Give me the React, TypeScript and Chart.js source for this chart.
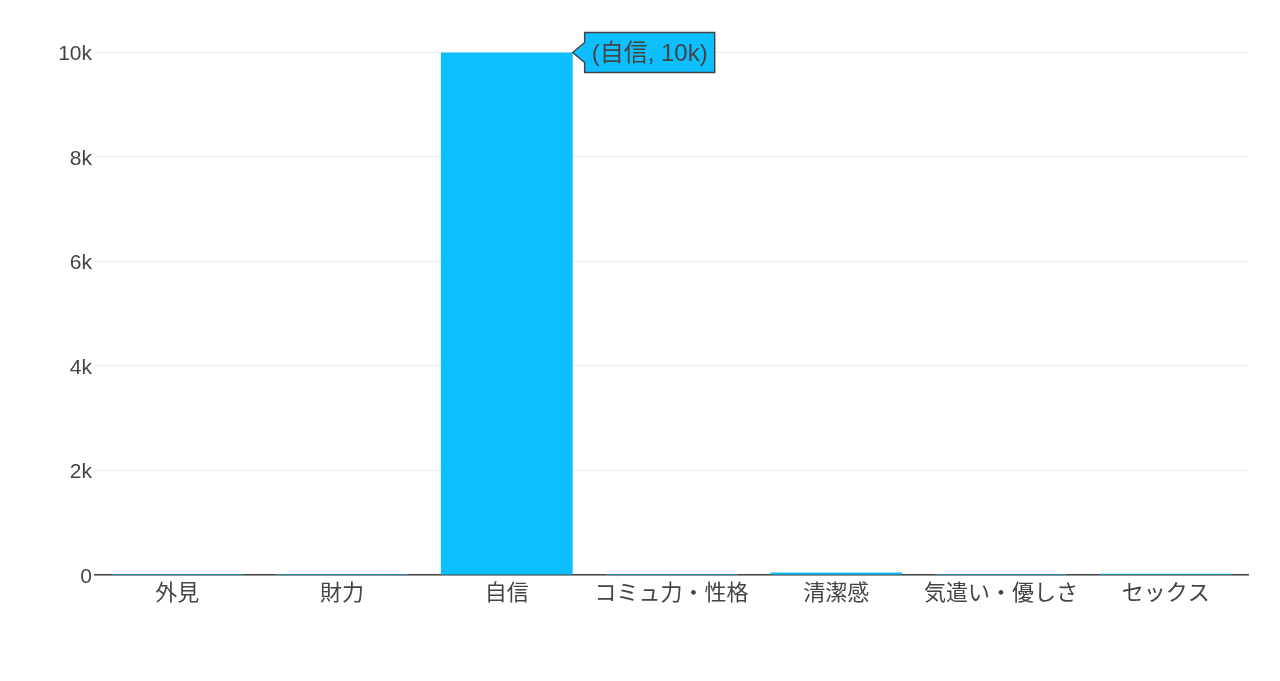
import React, { useEffect, useRef } from "react";
import { Chart, registerables } from "chart.js";

Chart.register(...registerables);

const categories = ["外見", "財力", "自信", "コミュ力・性格", "清潔感", "気遣い・優しさ", "セックス"];
const values = [20, 20, 10000, 20, 50, 20, 25];
const yTickValues = [0, 2000, 4000, 6000, 8000, 10000];
const hoverIndex = 2;
const hoverText = "(自信, 10k)";

const BAR = "#0ebfff";
const FONT = "'Liberation Sans', 'Noto Sans CJK JP', sans-serif";

const fmt = (v: number) => (v === 0 ? "0" : `${v / 1000}k`);

const hoverPlugin = {
  id: "hoverLabel",
  afterDatasetsDraw(chart: any) {
    const meta = chart.getDatasetMeta(0);
    const el = meta.data[hoverIndex];
    if (!el) return;
    const ctx = chart.ctx;
    const tipX = el.x + el.width / 2;
    const tipY = el.y;
    ctx.save();
    ctx.font = `24px ${FONT}`;
    const tw = ctx.measureText(hoverText).width;
    const arrow = 12;
    const padX = 7;
    const h = 40;
    const x0 = tipX + arrow;
    const x1 = x0 + tw + padX * 2;
    const y0 = tipY - h / 2;
    const y1 = tipY + h / 2;
    ctx.beginPath();
    ctx.moveTo(tipX, tipY);
    ctx.lineTo(x0, tipY - arrow / 1.2);
    ctx.lineTo(x0, y0);
    ctx.lineTo(x1, y0);
    ctx.lineTo(x1, y1);
    ctx.lineTo(x0, y1);
    ctx.lineTo(x0, tipY + arrow / 1.2);
    ctx.closePath();
    ctx.fillStyle = BAR;
    ctx.fill();
    ctx.lineWidth = 1.5;
    ctx.strokeStyle = "#444";
    ctx.stroke();
    ctx.fillStyle = "#444";
    ctx.textBaseline = "middle";
    ctx.textAlign = "left";
    ctx.fillText(hoverText, x0 + padX, tipY + 2);
    ctx.restore();
  },
};

export default function App() {
  const ref = useRef<HTMLCanvasElement | null>(null);
  useEffect(() => {
    document.body.style.margin = "0";
    if (!ref.current) return;
    const chart = new Chart(ref.current, {
      type: "bar",
      data: {
        labels: categories,
        datasets: [
          {
            data: values,
            backgroundColor: BAR,
            borderWidth: 0,
            categoryPercentage: 1,
            barPercentage: 0.8,
          },
        ],
      },
      options: {
        animation: false,
        responsive: false,
        maintainAspectRatio: false,
        layout: { padding: { top: 25, right: 32, left: 0, bottom: 0 } },
        plugins: { legend: { display: false }, tooltip: { enabled: false } },
        scales: {
          x: {
            grid: { display: false, drawTicks: false },
            border: { display: true, color: "#444", width: 1.5 },
            ticks: { color: "#444", font: { family: FONT, size: 22 }, padding: 6, maxRotation: 0, autoSkip: false },
            afterFit: (s: any) => {
              s.height = 106;
            },
          },
          y: {
            min: 0,
            max: 10526,
            grid: { color: "#ebebeb", drawTicks: false, lineWidth: 1 },
            border: { display: false },
            ticks: {
              color: "#444",
              font: { family: FONT, size: 21 },
              padding: 3,
              labelOffset: 2,
              callback: (v: any) => fmt(Number(v)),
            },
            afterBuildTicks: (axis: any) => {
              axis.ticks = yTickValues.map((v) => ({ value: v }));
            },
            afterFit: (s: any) => {
              s.width = 95;
            },
          },
        },
      },
      plugins: [hoverPlugin],
    });
    return () => chart.destroy();
  }, []);
  return (
    <div style={{ width: 1280, height: 681 }}>
      <canvas ref={ref} width={1280} height={681} style={{ display: "block" }} />
    </div>
  );
}
